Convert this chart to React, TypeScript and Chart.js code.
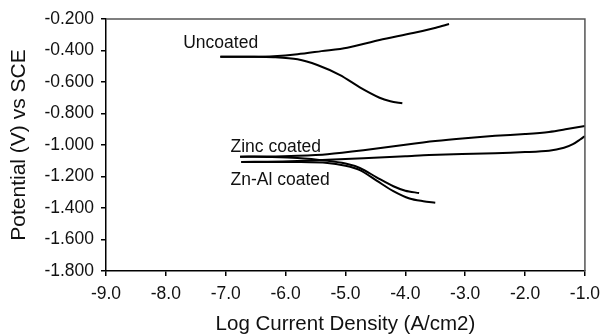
import { useEffect, useRef } from "react";
import { Chart, registerables } from "chart.js";

Chart.register(...registerables);

// Polarization curves: [log current density, potential vs SCE]
const uncoatedCathodic: [number, number][] = [
  [-7.09, -0.439], [-6.6, -0.440], [-6.2, -0.443], [-5.8, -0.456], [-5.47, -0.492],
  [-5.09, -0.556], [-4.76, -0.634], [-4.43, -0.700], [-4.25, -0.722], [-4.05, -0.735],
];
const uncoatedAnodic: [number, number][] = [
  [-7.09, -0.439], [-6.6, -0.439], [-6.2, -0.436], [-5.8, -0.424], [-5.4, -0.404],
  [-4.97, -0.382], [-4.43, -0.333], [-3.87, -0.289], [-3.49, -0.255], [-3.27, -0.232],
];
const zincCathodic: [number, number][] = [
  [-6.76, -1.074], [-6.3, -1.076], [-5.8, -1.082], [-5.3, -1.100], [-5.0, -1.118],
  [-4.76, -1.146], [-4.48, -1.205], [-4.2, -1.262], [-4.0, -1.290], [-3.77, -1.305],
];
const zincAnodic: [number, number][] = [
  [-6.76, -1.074], [-6.3, -1.073], [-5.8, -1.068], [-5.3, -1.058], [-4.7, -1.033],
  [-4.0, -0.998], [-3.5, -0.975], [-3.0, -0.957], [-2.5, -0.942], [-2.0, -0.930],
  [-1.6, -0.917], [-1.3, -0.899], [-1.0, -0.879],
];
const znAlCathodic: [number, number][] = [
  [-6.74, -1.108], [-6.3, -1.108], [-5.8, -1.108], [-5.3, -1.114], [-5.0, -1.132],
  [-4.76, -1.159], [-4.48, -1.226], [-4.2, -1.293], [-3.93, -1.340], [-3.7, -1.357],
  [-3.5, -1.366],
];
const znAlAnodic: [number, number][] = [
  [-6.74, -1.108], [-6.3, -1.106], [-5.8, -1.102], [-5.3, -1.094], [-4.7, -1.084],
  [-4.0, -1.072], [-3.6, -1.064], [-2.5, -1.052], [-2.0, -1.045], [-1.6, -1.036],
  [-1.35, -1.018], [-1.2, -0.995], [-1.08, -0.965], [-1.0, -0.943],
];

const curveNames = ["Uncoated", "Zinc coated", "Zn-Al coated"];

const xMin = -9.0;
const xMax = -1.0;
const yMin = -1.8;
const yMax = -0.2;

const FONT = "'Liberation Sans', Arial, sans-serif";

// Curve names placed beside their curves, plus the top/right frame
const annotations = {
  id: "annotations",
  afterDatasetsDraw(chart: Chart) {
    const { ctx, chartArea, scales } = chart;
    const x = scales.x;
    const y = scales.y;
    ctx.save();
    ctx.strokeStyle = "#555";
    ctx.lineWidth = 1.5;
    ctx.beginPath();
    ctx.moveTo(chartArea.left, chartArea.top);
    ctx.lineTo(chartArea.right, chartArea.top);
    ctx.lineTo(chartArea.right, chartArea.bottom);
    ctx.stroke();

    ctx.fillStyle = "#111";
    ctx.font = `17.5px ${FONT}`;
    ctx.textAlign = "left";
    ctx.textBaseline = "middle";
    const anchors: [number, number][] = [
      [-7.71, -0.352],
      [-6.92, -1.013],
      [-6.92, -1.222],
    ];
    curveNames.forEach((name, i) => {
      ctx.fillText(name, x.getPixelForValue(anchors[i][0]), y.getPixelForValue(anchors[i][1]));
    });
    ctx.restore();
  },
};

export default function App() {
  const canvasRef = useRef<HTMLCanvasElement>(null);

  useEffect(() => {
    document.body.style.margin = "0";
    const canvas = canvasRef.current;
    if (!canvas) return;

    const branch = (pts: [number, number][]) => ({
      data: pts.map(([lx, e]) => ({ x: lx, y: e })),
      showLine: true,
      borderColor: "#000",
      borderWidth: 2,
      pointRadius: 0,
      tension: 0.3,
      fill: false,
    });

    const chart = new Chart(canvas, {
      type: "scatter",
      data: {
        datasets: [
          branch(uncoatedCathodic),
          branch(uncoatedAnodic),
          branch(zincCathodic),
          branch(zincAnodic),
          branch(znAlCathodic),
          branch(znAlAnodic),
        ],
      },
      options: {
        animation: false,
        responsive: false,
        maintainAspectRatio: false,
        layout: { padding: { top: 19, right: 17, left: 0, bottom: 0 } },
        plugins: { legend: { display: false }, tooltip: { enabled: false } },
        scales: {
          x: {
            type: "linear",
            min: xMin,
            max: xMax,
            afterFit: (s: any) => {
              s.height = 64;
            },
            ticks: {
              stepSize: 1,
              padding: 8,
              color: "#111",
              font: { family: FONT, size: 17.5 },
              callback: (v: any) => Number(v).toFixed(1),
            },
            grid: {
              drawOnChartArea: false,
              drawTicks: true,
              tickLength: 5,
              color: "#000",
              lineWidth: 1.5,
            },
            border: { display: true, color: "#000", width: 1.5 },
            title: {
              display: true,
              text: "Log Current Density (A/cm2)",
              color: "#111",
              font: { family: FONT, size: 20.5, lineHeight: 1 },
              padding: { top: 0, bottom: 0 },
            },
          },
          y: {
            type: "linear",
            min: yMin,
            max: yMax,
            afterFit: (s: any) => {
              s.width = 106;
            },
            ticks: {
              stepSize: 0.2,
              padding: 7,
              color: "#111",
              font: { family: FONT, size: 17.5 },
              callback: (v: any) => Number(v).toFixed(3),
            },
            grid: {
              drawOnChartArea: false,
              drawTicks: true,
              tickLength: 5,
              color: "#000",
              lineWidth: 1.5,
            },
            border: { display: true, color: "#000", width: 1.5 },
            title: {
              display: true,
              text: "Potential (V) vs SCE",
              color: "#111",
              font: { family: FONT, size: 21, lineHeight: 1 },
              padding: { top: 9, bottom: 0 },
            },
          },
        },
      },
      plugins: [annotations],
    });

    return () => chart.destroy();
  }, []);

  return (
    <div style={{ width: 608, height: 335 }}>
      <canvas ref={canvasRef} width={608} height={335} style={{ display: "block" }} />
    </div>
  );
}
